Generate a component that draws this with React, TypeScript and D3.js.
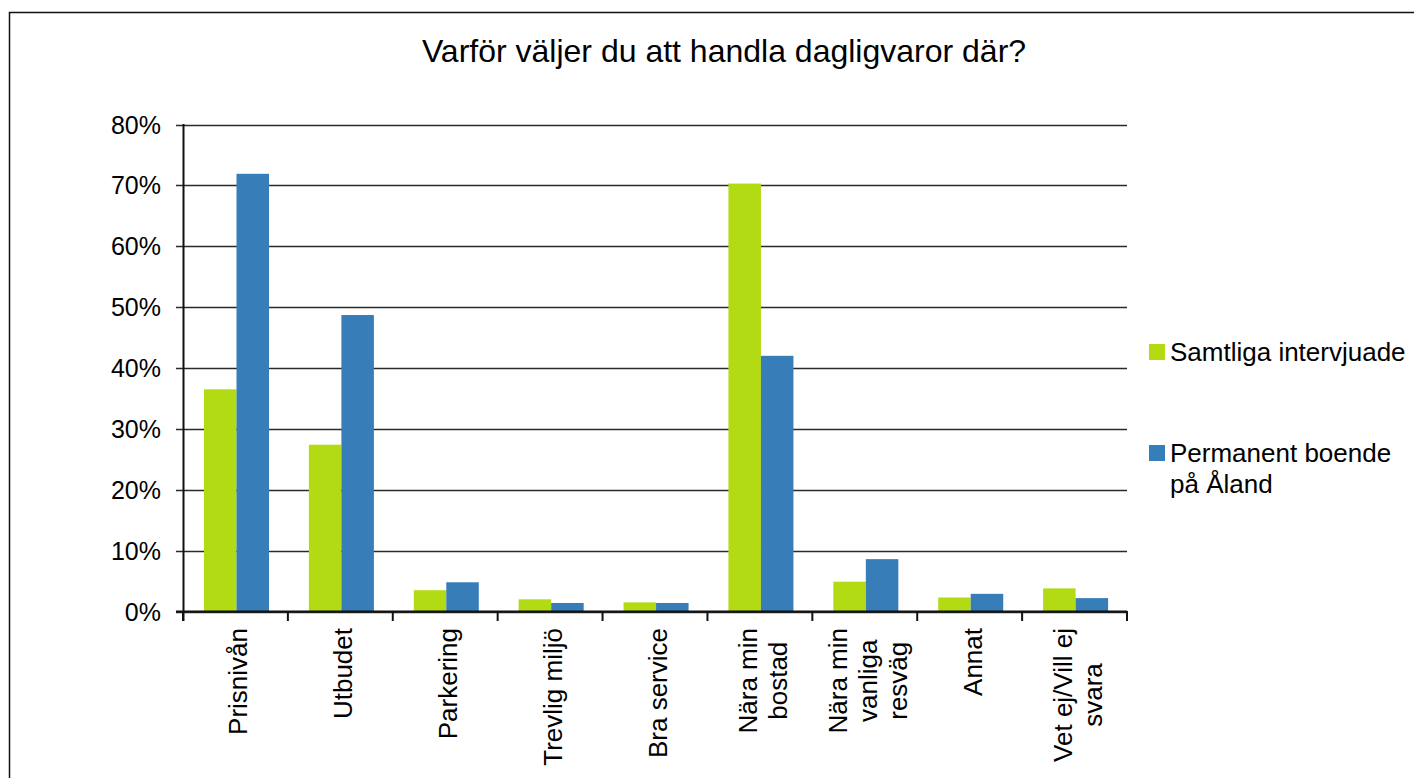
import React from "react";
import * as d3 from "d3";

const title = "Varför väljer du att handla dagligvaror där?";
const categories = [
  "Prisnivån",
  "Utbudet",
  "Parkering",
  "Trevlig miljö",
  "Bra service",
  "Nära min\nbostad",
  "Nära min\nvanliga\nresväg",
  "Annat",
  "Vet ej/Vill ej\nsvara",
];
const seriesNames = ["Samtliga intervjuade", "Permanent boende\npå Åland"];
const samtliga = [0.365, 0.274, 0.035, 0.02, 0.015, 0.703, 0.049, 0.023, 0.038];
const permanent = [0.719, 0.487, 0.048, 0.014, 0.014, 0.42, 0.086, 0.029, 0.022];
const yTicks = [0, 0.1, 0.2, 0.3, 0.4, 0.5, 0.6, 0.7, 0.8];
const colors = ["#b3db13", "#377db8"];

const FONT = "'Liberation Sans', Arial, sans-serif";

let ctx: CanvasRenderingContext2D | null = null;
function measure(text: string, size: number) {
  if (!ctx) ctx = document.createElement("canvas").getContext("2d");
  if (!ctx) return text.length * size * 0.5;
  ctx.font = `${size}px 'Liberation Sans'`;
  return ctx.measureText(text).width;
}

export default function App() {
  const W = 1414;
  const H = 778;
  const left = 183;
  const right = 1127;
  const top = 124.5;
  const bottom = 611.5;

  const x = d3.scaleBand<string>().domain(categories).range([left, right]).padding(0);
  const inner = d3.scaleBand<number>().domain([0, 1]).range([21, 86]).padding(0);
  const y = d3.scaleLinear().domain([0, 0.8]).range([bottom, top]);
  const series = [samtliga, permanent];
  const step = x.step();
  const boundaries = d3.range(categories.length + 1).map((i) => left + i * step);
  const labelSize = 26;
  const lh = 30;

  return (
    <svg
      width={W}
      height={H}
      style={{ position: "absolute", left: 0, top: 0, display: "block", background: "#fff" }}
      fontFamily={FONT}
    >
      <rect x={9.5} y={12.5} width={W + 20} height={H + 20} fill="#fff" stroke="#111" strokeWidth={1.5} />
      <text x={724} y={62} textAnchor="middle" fontSize={32} fill="#000">
        {title}
      </text>

      {/* gridlines and y ticks */}
      {yTicks.map((t) => (
        <g key={t}>
          <line x1={176} x2={right} y1={Math.round(y(t)) + 0.5} y2={Math.round(y(t)) + 0.5} stroke="#2a2a2a" strokeWidth={1.4} />
          <text x={161} y={y(t) + 9} textAnchor="end" fontSize={25} fill="#000">
            {`${Math.round(t * 100)}%`}
          </text>
        </g>
      ))}

      {/* bars */}
      {series.map((vals, si) =>
        vals.map((v, ci) => (
          <rect
            key={`${si}-${ci}`}
            x={(x(categories[ci]) as number) + (inner(si) as number)}
            y={y(v)}
            width={inner.bandwidth()}
            height={y(0) - y(v)}
            fill={colors[si]}
          />
        ))
      )}

      {/* axes */}
      <line x1={183.5} x2={183.5} y1={top - 0.5} y2={621} stroke="#111" strokeWidth={2} />
      <line x1={176} x2={right} y1={611.5} y2={611.5} stroke="#111" strokeWidth={2} />
      {boundaries.map((b, i) => (
        <line key={i} x1={b} x2={b} y1={611} y2={621} stroke="#111" strokeWidth={2} />
      ))}

      {/* category labels */}
      {categories.map((c) => {
        const lines = c.split("\n");
        const maxW = d3.max(lines, (l) => measure(l, labelSize)) as number;
        const cx = (x(c) as number) + step / 2;
        const n = lines.length;
        return (
          <g key={c} transform={`translate(${cx},${628 + maxW / 2}) rotate(-90)`}>
            {lines.map((l, i) => (
              <text key={i} x={0} y={(i - (n - 1) / 2) * lh + 12} textAnchor="middle" fontSize={labelSize} fill="#000">
                {l}
              </text>
            ))}
          </g>
        );
      })}

      {/* legend */}
      {seriesNames.map((s, i) => {
        const baseY = i === 0 ? 361 : 462;
        const lines = s.split("\n");
        return (
          <g key={s}>
            <rect x={1149} y={baseY - 17} width={16} height={16} fill={colors[i]} />
            {lines.map((l, j) => (
              <text key={j} x={1170} y={baseY + j * 31} fontSize={26} fill="#000">
                {l}
              </text>
            ))}
          </g>
        );
      })}
    </svg>
  );
}
